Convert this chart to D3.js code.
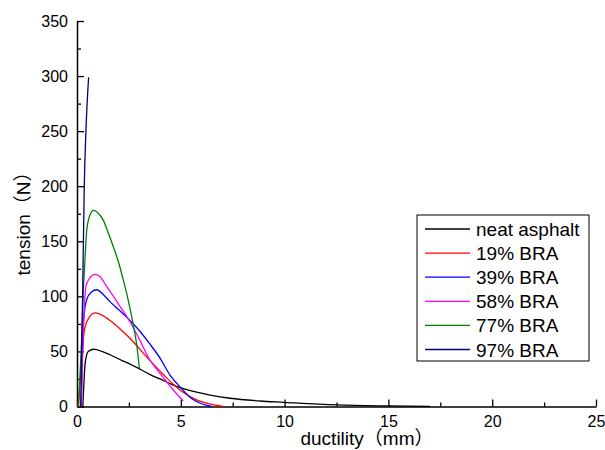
<!DOCTYPE html>
<html>
<head>
<meta charset="utf-8">
<script src="https://cdn.jsdelivr.net/npm/d3@7"></script>
<style>
  body { margin: 0; background: #fff; }
  text { font-family: Arial, "Liberation Sans", "Noto Sans CJK SC", sans-serif; fill: #000; }
</style>
</head>
<body>
<svg id="chart" width="605" height="450"></svg>
<script>
// series: [ductility mm, tension N]
const neatAsphalt = [[0.28,0],[0.33,20],[0.39,39],[0.54,50],[0.82,52],[1.2,50],[1.59,47],[2.2,41.5],[2.55,38.5],[2.87,35.5],[3.52,29],[4.0,25],[4.64,19.5],[5.76,13],[7.37,7.5],[8.8,5],[9.94,3.8],[12.5,1.4],[15,0.5],[17,0.1]];
const bra19 = [[0.03,0],[0.06,4],[0.3,60],[0.34,67],[0.5,78],[0.87,85],[1.2,83],[1.6,78],[2.1,70],[2.55,62],[3.36,45],[4.16,29],[4.96,15],[5.76,6],[6.5,2],[7.05,0]];
const bra39 = [[0.2,0],[0.28,60],[0.35,85],[0.47,97],[0.7,104],[0.95,106],[1.3,101],[1.6,95],[2.0,88],[2.5,79],[3.0,69],[3.5,57],[4.0,44],[4.5,28],[5.0,17],[5.5,7.5],[6.0,2.5],[6.5,0]];
const bra58 = [[0.2,0],[0.35,90],[0.47,112],[0.87,120],[1.1,118],[1.43,109],[2.07,91],[2.55,77],[3.03,60],[3.52,42],[4.0,30],[4.64,15],[5.12,5]];
const bra77 = [[0.08,0],[0.22,60],[0.30,103],[0.39,136],[0.47,160],[0.63,174],[0.79,178],[1.0,176],[1.27,169],[1.5,158],[1.75,145],[2.0,131],[2.23,115],[2.45,98],[2.63,82],[2.78,67],[2.87,57],[3.0,35]];
const bra97 = [[0.18,0],[0.27,100],[0.35,200],[0.43,250],[0.56,299]];

const seriesNames = ['neat asphalt', '19% BRA', '39% BRA', '58% BRA', '77% BRA', '97% BRA'];
const seriesData = [neatAsphalt, bra19, bra39, bra58, bra77, bra97];
const COLORS = ['#000000', '#ff0000', '#0000ff', '#ff00ff', '#008000', '#000080'];

const xTicks = [0, 5, 10, 15, 20, 25];
const xMinorTicks = [2.5, 7.5, 12.5, 17.5, 22.5];
const yTicks = [0, 50, 100, 150, 200, 250, 300, 350];
const yMinorTicks = [25, 75, 125, 175, 225, 275, 325];

const margin = { top: 21, right: 9, bottom: 43.5, left: 77 };
const width = 605 - margin.left - margin.right;
const height = 450 - margin.top - margin.bottom;

const svg = d3.select('#chart');
const g = svg.append('g').attr('transform', `translate(${margin.left},${margin.top})`);

const x = d3.scaleLinear().domain([0, 25]).range([0, width]);
const y = d3.scaleLinear().domain([0, 350]).range([height, 0]);

// minor ticks first, inward
g.append('g')
  .attr('transform', `translate(0,${height})`)
  .call(d3.axisBottom(x).tickValues(xMinorTicks).tickSize(-4).tickFormat(''))
  .call(s => s.select('.domain').remove());
g.append('g')
  .call(d3.axisLeft(y).tickValues(yMinorTicks).tickSize(-4).tickFormat(''))
  .call(s => s.select('.domain').remove());

const xAxis = g.append('g')
  .attr('transform', `translate(0,${height})`)
  .call(d3.axisBottom(x).tickValues(xTicks).tickSizeInner(-7).tickSizeOuter(0).tickPadding(9));
const yAxis = g.append('g')
  .call(d3.axisLeft(y).tickValues(yTicks).tickSizeInner(-7).tickSizeOuter(0).tickPadding(9));

[xAxis, yAxis].forEach(a => {
  a.selectAll('text').attr('font-size', 16).attr('font-family', 'Arial, "Liberation Sans", sans-serif');
  a.select('.domain').attr('stroke-width', 1.5);
});
g.selectAll('.tick line').attr('stroke-width', 1.3);

const line = d3.line()
  .x(d => x(d[0]))
  .y(d => y(d[1]))
  .curve(d3.curveMonotoneX);

g.selectAll('path.series')
  .data(seriesData)
  .enter()
  .append('path')
  .attr('class', 'series')
  .attr('fill', 'none')
  .attr('stroke', (d, i) => COLORS[i])
  .attr('stroke-width', 1.3)
  .attr('d', line);

// axis titles
svg.append('text')
  .attr('transform', 'translate(30,219) rotate(-90)')
  .attr('text-anchor', 'middle')
  .attr('font-size', 19)
  .text('tension（N）');

svg.append('text')
  .attr('x', 367)
  .attr('y', 445)
  .attr('text-anchor', 'middle')
  .attr('font-size', 19)
  .text('ductility（mm）');

// legend
const legend = svg.append('g').attr('transform', 'translate(417,215)');
legend.append('rect')
  .attr('width', 172)
  .attr('height', 146)
  .attr('fill', '#fff')
  .attr('stroke', '#000')
  .attr('stroke-width', 1);

const rows = legend.selectAll('g.row')
  .data(seriesNames)
  .enter()
  .append('g')
  .attr('class', 'row')
  .attr('transform', (d, i) => `translate(0,${14 + i * 24.1})`);
rows.append('line')
  .attr('x1', 8).attr('x2', 53)
  .attr('stroke', (d, i) => COLORS[i])
  .attr('stroke-width', 1.3);
rows.append('text')
  .attr('x', 59)
  .attr('y', 7)
  .attr('font-size', 19)
  .text(d => d);
</script>
</body>
</html>
